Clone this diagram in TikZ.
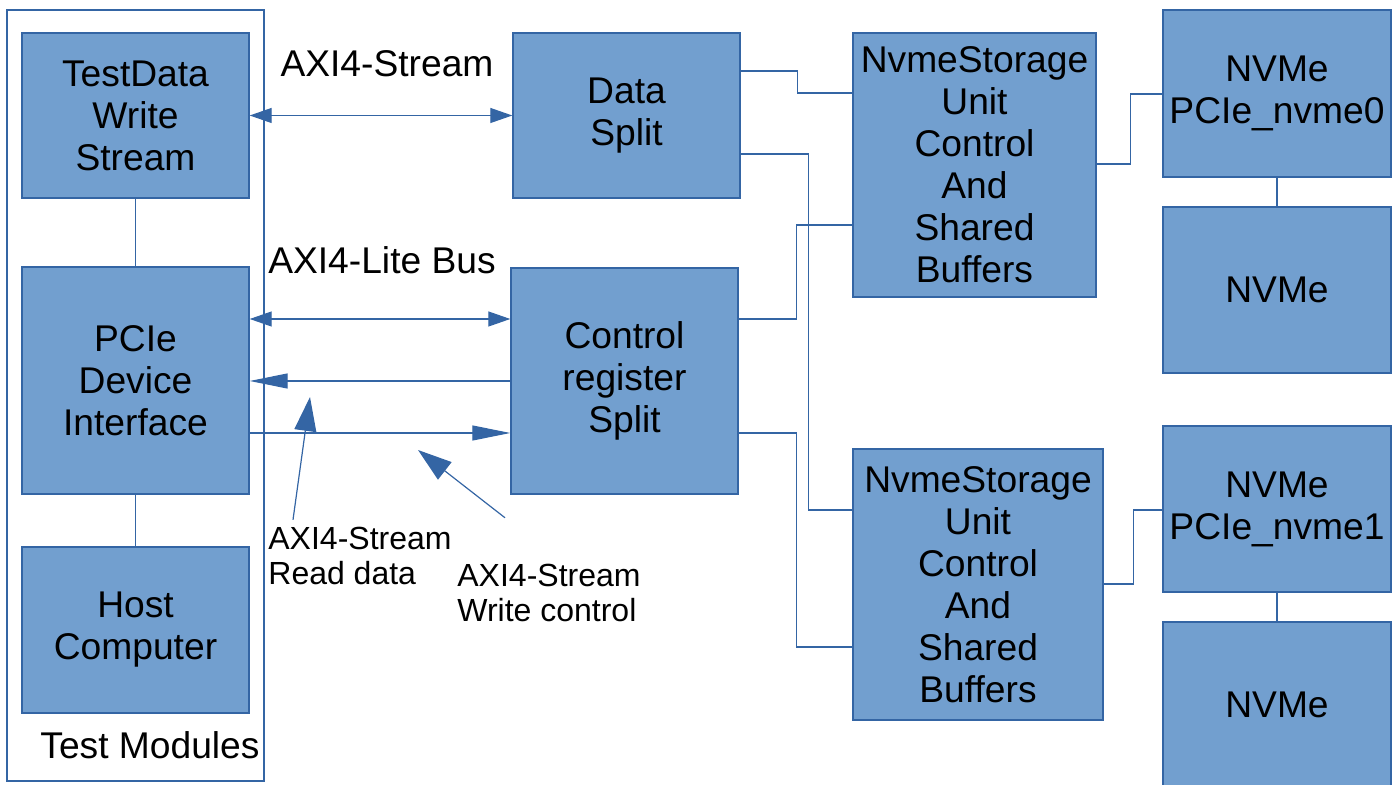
\documentclass[tikz,border=0pt]{standalone}
\usepackage{fontspec}
\setmainfont{Liberation Sans}
\usetikzlibrary{arrows.meta}
\definecolor{boxfill}{HTML}{729FCF}
\definecolor{boxline}{HTML}{3465A4}
\begin{document}
\begin{tikzpicture}[x=0.5pt,y=-0.5pt,
    blk/.style={draw=boxline,line width=0.7pt,fill=boxfill,align=center,inner sep=0pt,
        font=\fontsize{18.6}{21}\selectfont},
    wire/.style={draw=boxline,line width=0.6pt},
    dbl/.style={wire,{Triangle[length=11pt,width=7.5pt]}-{Triangle[length=11pt,width=7.5pt]}},
    one/.style={wire,-{Triangle[length=19pt,width=7.5pt]}},
    note/.style={wire,-{Triangle[length=17pt,width=11pt]}},
    small/.style={align=left,inner sep=0pt,font=\fontsize{16}{17.5}\selectfont}]
        \useasboundingbox (0,0) rectangle (1398,785);

        \node[draw=boxline,line width=0.7pt,minimum width=128.5pt,minimum height=385.5pt] (tmod) at (135.5,395.5) {};
        \node[font=\fontsize{18.6}{21}\selectfont] (tmodlbl) at (150,745) {Test Modules};

        \node[blk,minimum width=113.5pt,minimum height=82.5pt] (tdws) at (135.5,115.5) {TestData\\Write\\Stream};
        \node[blk,minimum width=113.5pt,minimum height=113.5pt] (pcie) at (135.5,380.5) {PCIe\\Device\\Interface};
        \node[blk,minimum width=113.5pt,minimum height=83pt] (host) at (135.5,630) {Host\\Computer};

        \node[blk,minimum width=113.5pt,minimum height=82.5pt] (dsplit) at (626.5,115.5) {Data\\Split};
        \node[blk,minimum width=113.5pt,minimum height=113pt] (csplit) at (624.5,381) {Control\\register\\Split};

        \node[blk,minimum width=121.5pt,minimum height=132pt] (nvst0) at (974.5,165) {NvmeStorage\\Unit\\Control\\And\\Shared\\Buffers};
        \node[blk,minimum width=125pt,minimum height=135.5pt] (nvst1) at (978,584.5) {NvmeStorage\\Unit\\Control\\And\\Shared\\Buffers};

        \node[blk,minimum width=114pt,minimum height=83.5pt] (nvme0) at (1277,93.5) {NVMe\\PCIe\_nvme0};
        \node[blk,minimum width=114pt,minimum height=83pt] (nvmea) at (1277,290) {NVMe};
        \node[blk,minimum width=114pt,minimum height=83pt] (nvme1) at (1277,509) {NVMe\\PCIe\_nvme1};
        \node[blk,minimum width=114pt,minimum height=82.5pt] (nvmeb) at (1277,704.5) {NVMe};

        \node[font=\fontsize{18.6}{21}\selectfont] (strlbl) at (387,64) {AXI4-Stream};
        \node[font=\fontsize{18.6}{21}\selectfont] (litelbl) at (382,260) {AXI4-Lite Bus};
        \node[small,anchor=west] (rdlbl) at (268,556) {AXI4-Stream\\Read data};
        \node[small,anchor=west] (wrlbl) at (457,593) {AXI4-Stream\\Write control};

        \draw[wire] (tdws) -- (pcie);
        \draw[wire] (pcie) -- (host);
        \draw[wire] (nvme0) -- (nvmea);
        \draw[wire] (nvme1) -- (nvmeb);

        \draw[dbl] (tdws.east) -- (dsplit.west);
        \draw[dbl] (pcie.east |- 0,319) -- (csplit.west |- 0,319);
        \draw[one] (csplit.west |- 0,381) -- (pcie.east |- 0,381);
        \draw[one] (pcie.east |- 0,433) -- (csplit.west |- 0,433);

        \coordinate (rdtip) at (310,397);
        \coordinate (wrtip) at (418,450);
        \draw[note] ([xshift=12.5pt,yshift=3.5pt]rdlbl.north west) -- (rdtip);
        \draw[note] ([xshift=24pt,yshift=23pt]wrlbl.north west) -- (wrtip);

        \draw[wire] (dsplit.east |- 0,71) -- ++(57,0) |- (nvst0.west |- 0,93);
        \draw[wire] (dsplit.east |- 0,154) -- ++(68,0) |- (nvst1.west |- 0,510);
        \draw[wire] (csplit.east |- 0,319) -- ++(58,0) |- (nvst0.west |- 0,225);
        \draw[wire] (csplit.east |- 0,433) -- ++(58,0) |- (nvst1.west |- 0,647);

        \draw[wire] (nvst0.east |- 0,164) -- ++(34,0) |- (nvme0.west |- 0,94);
        \draw[wire] (nvst1.east |- 0,584) -- ++(30,0) |- (nvme1.west |- 0,510);
    \end{tikzpicture}
\end{document}
